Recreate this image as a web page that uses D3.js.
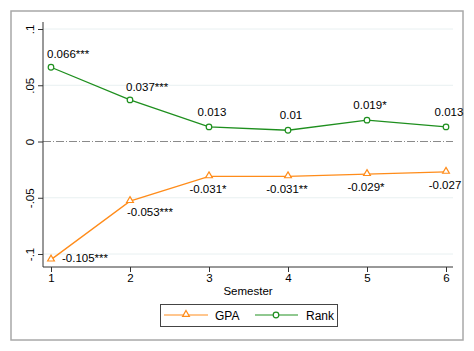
<!DOCTYPE html>
<html>
<head>
<meta charset="utf-8">
<script src="https://cdn.jsdelivr.net/npm/d3@7"></script>
<style>
  body { margin: 0; background: #fff; }
  text { font-family: "Liberation Sans", Arial, Helvetica, sans-serif; fill: #000; }
</style>
</head>
<body>
<div id="container"></div>
<script>
// data
var semesters = [1, 2, 3, 4, 5, 6];
var gpa = [-0.105, -0.053, -0.031, -0.031, -0.029, -0.027];
var rank = [0.066, 0.037, 0.013, 0.01, 0.019, 0.013];
var gpaLabels = ["-0.105***", "-0.053***", "-0.031*", "-0.031**", "-0.029*", "-0.027"];
var rankLabels = ["0.066***", "0.037***", "0.013", "0.01", "0.019*", "0.013"];
// clock positions of the marker labels
var gpaPos = [3, 5, 6, 6, 6, 6];
var rankPos = [1, 1, 12, 12, 12, 12];
var yTicks = [-0.1, -0.05, 0, 0.05, 0.1];
var yTickLabels = ["-.1", "-.05", "0", ".05", ".1"];

var W = 474, H = 351;
var plot = {left: 43, right: 453, top: 22, bottom: 267};

var orange = "#ff8c1a", green = "#1e8f1e";

var x = d3.scaleLinear().domain([1, 6]).range([51, 446]);
var y = d3.scaleLinear().domain([-0.1, 0.1]).range([254, 29]);

var svg = d3.select("#container").append("svg")
    .attr("width", W)
    .attr("height", H);

// outer frame
svg.append("rect")
    .attr("x", 11).attr("y", 11)
    .attr("width", 452).attr("height", 329)
    .attr("fill", "#fff")
    .attr("stroke", "#a8a8a8")
    .attr("stroke-width", 1.5);

// gridlines
svg.append("g").selectAll("line")
    .data(yTicks.filter(function(d) { return d !== 0; }))
    .join("line")
    .attr("x1", plot.left).attr("x2", plot.right)
    .attr("y1", function(d) { return y(d); })
    .attr("y2", function(d) { return y(d); })
    .attr("stroke", "#e8f0f1")
    .attr("stroke-width", 1);

// zero reference line
svg.append("line")
    .attr("x1", plot.left).attr("x2", plot.right)
    .attr("y1", y(0)).attr("y2", y(0))
    .attr("stroke", "#8a8a8a")
    .attr("stroke-width", 1)
    .attr("stroke-dasharray", "8,2,1,2");

// axes
var yAxis = d3.axisLeft(y).tickValues(yTicks).tickSize(5).tickFormat(function(d, i) { return yTickLabels[i]; });
var gy = svg.append("g")
    .attr("transform", "translate(" + plot.left + ",0)")
    .call(yAxis);
gy.select(".domain").attr("d", "M0," + plot.top + "V" + plot.bottom).attr("stroke", "#333");
gy.selectAll(".tick line").attr("stroke", "#333");
gy.selectAll(".tick text")
    .attr("x", null).attr("dy", null)
    .attr("transform", "translate(-9,0) rotate(-90)")
    .attr("text-anchor", "middle")
    .attr("font-size", 11.5)
    .attr("font-family", "Liberation Sans, Arial, sans-serif");

var xAxis = d3.axisBottom(x).tickValues(semesters).tickSize(5).tickFormat(d3.format("d"));
var gx = svg.append("g")
    .attr("transform", "translate(0," + plot.bottom + ")")
    .call(xAxis);
gx.select(".domain").attr("d", "M" + plot.left + ",0H" + plot.right).attr("stroke", "#333");
gx.selectAll(".tick line").attr("stroke", "#333");
gx.selectAll(".tick text")
    .attr("y", 15).attr("dy", null)
    .attr("font-size", 11.5)
    .attr("font-family", "Liberation Sans, Arial, sans-serif");

svg.append("text")
    .attr("x", (plot.left + plot.right) / 2)
    .attr("y", 295)
    .attr("text-anchor", "middle")
    .attr("font-size", 11.5)
    .text("Semester");

// lines
var line = function(vals) {
    return d3.line()
        .x(function(d, i) { return x(semesters[i]); })
        .y(function(d) { return y(d); })(vals);
};

svg.append("path").attr("d", line(gpa))
    .attr("fill", "none").attr("stroke", orange).attr("stroke-width", 1.3);
svg.append("path").attr("d", line(rank))
    .attr("fill", "none").attr("stroke", green).attr("stroke-width", 1.3);

var triangle = d3.symbol().type(d3.symbolTriangle).size(20);

function drawTri(g, cx, cy) {
    g.append("path")
        .attr("d", triangle())
        .attr("transform", "translate(" + cx + "," + (cy - 0.6) + ")")
        .attr("fill", "#fff").attr("stroke", orange).attr("stroke-width", 1.2);
}
function drawCirc(g, cx, cy) {
    g.append("circle")
        .attr("cx", cx).attr("cy", cy).attr("r", 2.8)
        .attr("fill", "#fff").attr("stroke", green).attr("stroke-width", 1.2);
}

var mk = svg.append("g");
gpa.forEach(function(v, i) { drawTri(mk, x(semesters[i]), y(v)); });
rank.forEach(function(v, i) { drawCirc(mk, x(semesters[i]), y(v)); });

// marker labels
function addLabel(txt, pos, px, py) {
    var t = svg.append("text").attr("font-size", 11.5).text(txt);
    if (pos === 12) {
        t.attr("x", px + 3).attr("y", py - 11).attr("text-anchor", "middle");
    } else if (pos === 1) {
        t.attr("x", px - 4).attr("y", py - 9).attr("text-anchor", "start");
    } else if (pos === 3) {
        t.attr("x", px + 11).attr("y", py + 2).attr("text-anchor", "start");
    } else if (pos === 5) {
        t.attr("x", px - 3).attr("y", py + 15).attr("text-anchor", "start");
    } else if (pos === 6) {
        t.attr("x", px - 1).attr("y", py + 17).attr("text-anchor", "middle");
    }
}
gpa.forEach(function(v, i) { addLabel(gpaLabels[i], gpaPos[i], x(semesters[i]), y(v)); });
rank.forEach(function(v, i) { addLabel(rankLabels[i], rankPos[i], x(semesters[i]), y(v)); });

// legend
var lg = svg.append("g");
lg.append("rect")
    .attr("x", 160.5).attr("y", 304.5)
    .attr("width", 177).attr("height", 22)
    .attr("fill", "#fff").attr("stroke", "#444").attr("stroke-width", 1);
var ly = 315;
lg.append("line").attr("x1", 164).attr("x2", 208).attr("y1", ly).attr("y2", ly)
    .attr("stroke", orange).attr("stroke-width", 1.3).attr("opacity", 0.65);
drawTri(lg, 186, ly);
lg.append("text").attr("x", 215).attr("y", ly + 4.5).attr("font-size", 12).text("GPA");
lg.append("line").attr("x1", 255).attr("x2", 298).attr("y1", ly).attr("y2", ly)
    .attr("stroke", green).attr("stroke-width", 1.3).attr("opacity", 0.65);
drawCirc(lg, 276, ly);
lg.append("text").attr("x", 306).attr("y", ly + 4.5).attr("font-size", 12).text("Rank");
</script>
</body>
</html>
